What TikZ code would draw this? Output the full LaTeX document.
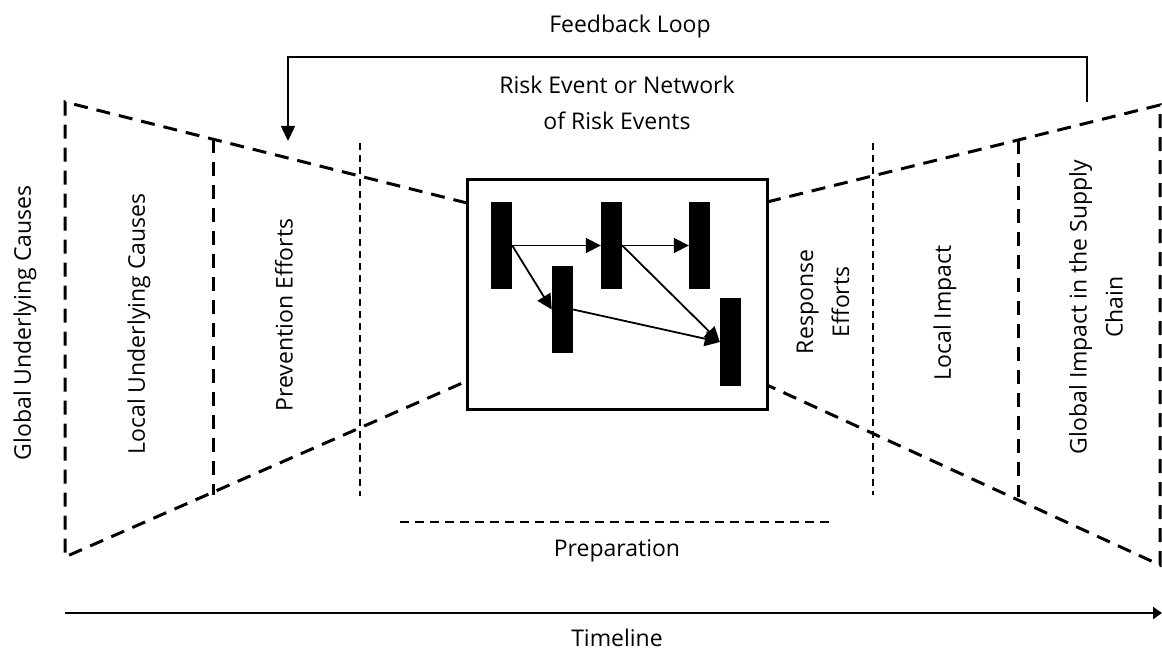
\documentclass[tikz,border=0pt]{standalone}
\usepackage{fontspec}
\setmainfont{Open Sans}
\usetikzlibrary{arrows.meta}
\begin{document}
\begin{tikzpicture}[x=1pt,y=-1pt,
  thickdash/.style={line width=3pt,dash pattern=on 14pt off 9pt},
  thindash/.style={line width=1.5pt,dash pattern=on 7pt off 5pt},
  prepdash/.style={line width=1.5pt,dash pattern=on 9pt off 6pt},
  bar/.style={fill=black,draw=none,minimum width=21pt,minimum height=87pt,inner sep=0pt},
  flow/.style={line width=1.8pt,-{Triangle[length=15pt,width=15pt]}},
  lbl/.style={font=\fontsize{23}{36}\selectfont,align=center,inner sep=0pt},
  vlbl/.style={lbl,rotate=90}]
\useasboundingbox (0,0) rectangle (1162,652);
% trapezoid corners
\coordinate (LT) at (65,102);
\coordinate (LB) at (65,557);
\coordinate (RT) at (1160,105);
\coordinate (RB) at (1160,565);
% central box
\node[draw,line width=3pt,minimum width=300pt,minimum height=229pt,inner sep=0pt] (box) at (617,294.5) {};
\coordinate (BLT) at (467,203);
\coordinate (BLB) at (467,381);
\coordinate (BRT) at (767,202);
\coordinate (BRB) at (767,385);
% funnel outlines
\draw[thickdash] (BLT) -- (LT) -- (LB) -- (BLB);
\draw[thickdash] (BRT) -- (RT) -- (RB) -- (BRB);
% inner boundaries
\draw[thickdash] (213,139) -- (213,495);
\draw[thickdash] (1018,140) -- (1018,497);
\draw[thindash] (360,143) -- (360,496);
\draw[thindash] (873,143) -- (873,495);
% bars
\node[bar] (b1) at (501.5,245.5) {};
\node[bar] (b2) at (611.5,245.5) {};
\node[bar] (b3) at (699.5,245.5) {};
\node[bar] (b4) at (562.5,309.5) {};
\node[bar] (b5) at (730.5,342) {};
\draw[flow] (b1.east) -- (b2.west);
\draw[flow] (b2.east) -- (b3.west);
\draw[flow] (b1.east) -- (b4.west);
\draw[flow] (b2.east) -- (b5.west);
\draw[flow] (b4.east) -- (b5.west);
% feedback loop
\coordinate (fbs) at (1087,102);
\coordinate (fbe) at (288,141);
\draw[line width=1.6pt,-{Triangle[length=15pt,width=14pt]}] (fbs) |- (288,57) -- (fbe);
\node[lbl] (fbl) at (630,27) {Feedback Loop};
% preparation
\coordinate (p1) at (400,522);
\coordinate (p2) at (830,522);
\draw[prepdash] (p1) -- (p2);
\node[lbl] (prep) at (617,551) {Preparation};
% timeline
\coordinate (t1) at (65,613);
\coordinate (t2) at (1162,613);
\draw[line width=2.5pt,-{Triangle[length=9pt,width=12pt]}] (t1) -- (t2);
\node[lbl] (tl) at (617,638) {Timeline};
% labels
\node[lbl] (risk) at (617,103) {Risk Event or Network\\of Risk Events};
\node[vlbl] (gu) at (25,323) {Global Underlying Causes};
\node[vlbl] (lu) at (139,324) {Local Underlying Causes};
\node[vlbl] (pe) at (284,315) {Prevention Efforts};
\node[vlbl] (re) at (823,302) {Response\\Efforts};
\node[vlbl] (li) at (945,313) {Local Impact};
\node[vlbl] (gi) at (1096,307) {Global Impact in the Supply\\Chain};
\end{tikzpicture}
\end{document}
